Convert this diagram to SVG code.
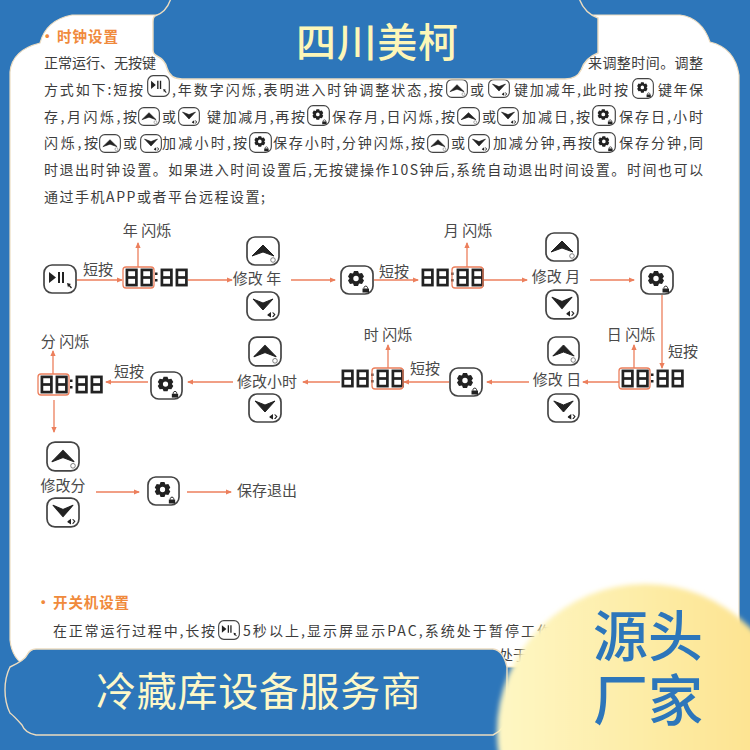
<svg xmlns="http://www.w3.org/2000/svg" width="750" height="750" viewBox="0 0 750 750">
<style>
text{font-family:"Noto Sans CJK SC","Noto Sans",sans-serif}
.p{font-size:14px;fill:#3c3c3c}
.h{font-size:14.5px;font-weight:700;fill:#f08a3c}
.l{font-size:15px;fill:#4a4a4a;text-anchor:middle}
.c{fill:none;stroke:#ec7f5c;stroke-width:1.3;marker-end:url(#a)}
.hl{fill:none;stroke:#ec7f5c;stroke-width:1.3}
.ban{fill:#2d76ba;stroke:#ecdcc0;stroke-width:1.4}
.kb{fill:#fff;stroke:#444;stroke-width:1.7}
.ic{fill:#222}
.ch{fill:#222;stroke:#222;stroke-width:1;stroke-linejoin:round}
.d{fill:none;stroke:#222;stroke-width:2.7}
.big{font-size:55px;font-weight:500;fill:#2d76ba}
</style>
<defs>
<marker id="a" markerWidth="6" markerHeight="6" refX="5" refY="3" orient="auto" markerUnits="userSpaceOnUse"><path d="M0 0.4L6 3L0 5.6Z" fill="#ec7f5c"/></marker>
<linearGradient id="y" x1="0" x2="1" y1="0" y2="0"><stop offset="0" stop-color="#fef7c4"/><stop offset="0.55" stop-color="#fdeba3"/><stop offset="1" stop-color="#fde08a"/></linearGradient>
<filter id="b" x="-5%" y="-5%" width="110%" height="110%"><feGaussianBlur stdDeviation="2.5"/></filter>
<symbol id="k-up" viewBox="0 0 34 30" preserveAspectRatio="none"><rect class="kb" x="1" y="1" width="32" height="28" rx="8"/><path class="ch" d="M17 9L28 20L17 16L6 20Z"/><circle cx="27" cy="24" r="2.3" fill="#fff" stroke="#666" stroke-width="0.8"/></symbol>
<symbol id="k-down" viewBox="0 0 34 30" preserveAspectRatio="none"><rect class="kb" x="1" y="1" width="32" height="28" rx="8"/><path class="ch" d="M7 8L17 12L27 8L17 19Z"/><path class="ic" d="M21.500 23.500L25 21V26.500L21.500 24.500ZM26 21.500L28 23.500L26 26H27.500L29.500 23.500L27.500 21.500Z"/></symbol>
<symbol id="k-set" viewBox="0 0 34 30" preserveAspectRatio="none"><rect class="kb" x="1" y="1" width="32" height="28" rx="8"/><path class="ic" fill-rule="evenodd" d="M14 6H18L19 8.500L22 8L24 11.500L22.500 13.500L24 15.500L22 19L19 18.500L18 21H14L13 18.500L10 19L8 15.500L9.500 13.500L8 11.500L10 8L13 8.500ZM16 10.800A2.700 2.700 0 1 0 16 16.200A2.700 2.700 0 1 0 16 10.800Z"/><path class="ic" d="M22.500 23.500H29V27.500H22.500Z"/><path d="M24 23.500V22.500A1.800 1.800 0 0 1 27.500 22.500V23.500" fill="none" stroke="#222" stroke-width="1"/></symbol>
<symbol id="k-play" viewBox="0 0 34 30" preserveAspectRatio="none"><rect class="kb" x="1" y="1" width="32" height="28" rx="8"/><path class="ic" d="M6 8L13 13.500L6 19ZM15 8H17V19H15ZM19 8H21V19H19Z"/><path class="ic" d="M24 19L28 20L26.800 21L29 23.500L28 24.500L25.800 22L25 23.500Z"/></symbol>
<g id="dg"><rect class="d" x="1.400" y="1.400" width="9.500" height="15.200"/><path class="d" d="M1.400 9H10.900"/></g>
<g id="disp"><use href="#dg" x="2.500" y="1.500"/><use href="#dg" x="17.500" y="1.500"/><rect class="ic" x="32" y="5.500" width="2.500" height="2.500"/><rect class="ic" x="32" y="12" width="2.500" height="2.500"/><use href="#dg" x="37.500" y="1.500"/><use href="#dg" x="52.500" y="1.500"/></g>
</defs>
<rect width="750" height="750" fill="#2d76ba"/>
<path id="panel" d="M10 72Q12 50 40 43Q46 20 72 15L680 15Q702 18 710 42Q735 48 739 75V640Q738 660 720 667H28Q12 660 10 640Z" fill="#fff" stroke="#ecdcc0" stroke-width="1.2"/>

<g id="text-clock">
<text class="h" x="40" y="42">·</text>
<text class="h" x="57" y="42" textLength="61">时钟设置</text>
<text class="p" x="44" y="68">正常运行、无按键</text>
<text class="p" x="588" y="68" textLength="115">来调整时间。调整</text>
<text class="p" x="44" y="95" textLength="99">方式如下:短按</text>
<use href="#k-play" x="147" y="75" width="23" height="22"/>
<text class="p" x="172" y="95" textLength="271">,年数字闪烁,表明进入时钟调整状态,按</text>
<use href="#k-up" x="446" y="79" width="22" height="19"/>
<text class="p" x="470" y="95">或</text>
<use href="#k-down" x="488" y="79" width="22" height="19"/>
<text class="p" x="514" y="95" textLength="114">键加减年,此时按</text>
<use href="#k-set" x="632" y="78" width="22" height="21"/>
<text class="p" x="658" y="95" textLength="45">键年保</text>
<text class="p" x="44" y="122" textLength="93">存,月闪烁,按</text>
<use href="#k-up" x="138" y="107" width="22" height="19"/>
<text class="p" x="162" y="122">或</text>
<use href="#k-down" x="178" y="107" width="22" height="19"/>
<text class="p" x="207" y="122" textLength="98">键加减月,再按</text>
<use href="#k-set" x="307" y="105" width="23" height="21"/>
<text class="p" x="332" y="122" textLength="123">保存月,日闪烁,按</text>
<use href="#k-up" x="457" y="107" width="23" height="19"/>
<text class="p" x="482" y="122">或</text>
<use href="#k-down" x="497" y="107" width="22" height="19"/>
<text class="p" x="522" y="122" textLength="68">加减日,按</text>
<use href="#k-set" x="592" y="105" width="24" height="21"/>
<text class="p" x="619" y="122" textLength="84">保存日,小时</text>
<text class="p" x="44" y="148" textLength="54">闪烁,按</text>
<use href="#k-up" x="99" y="134" width="22" height="19"/>
<text class="p" x="123" y="148">或</text>
<use href="#k-down" x="140" y="134" width="22" height="19"/>
<text class="p" x="162" y="148" textLength="85">加减小时,按</text>
<use href="#k-set" x="249" y="132" width="23" height="21"/>
<text class="p" x="273" y="148" textLength="152">保存小时,分钟闪烁,按</text>
<use href="#k-up" x="427" y="134" width="22" height="19"/>
<text class="p" x="451" y="148">或</text>
<use href="#k-down" x="468" y="134" width="22" height="19"/>
<text class="p" x="493" y="148" textLength="99">加减分钟,再按</text>
<use href="#k-set" x="593" y="132" width="23" height="21"/>
<text class="p" x="619" y="148" textLength="84">保存分钟,同</text>
<text class="p" x="44" y="175" textLength="659">时退出时钟设置。如果进入时间设置后,无按键操作10S钟后,系统自动退出时间设置。时间也可以</text>
<text class="p" x="44" y="202" textLength="221">通过手机APP或者平台远程设置;</text>
</g>

<g id="connectors">
<path class="c" d="M77 280H122"/><path class="c" d="M138 267V243"/><path class="c" d="M188 280H232"/><path class="c" d="M291 280H335"/>
<path class="c" d="M374 280H418"/><path class="c" d="M467 267V243"/><path class="c" d="M483 280H527"/><path class="c" d="M590 280H634"/>
<path class="c" d="M662 295V368"/><path class="c" d="M634 368V345"/><path class="c" d="M619 382H583"/><path class="c" d="M529 382H487"/>
<path class="c" d="M449 382H404"/><path class="c" d="M388 368V345"/><path class="c" d="M340 382H303"/><path class="c" d="M233 382H188"/>
<path class="c" d="M148 382H106"/><path class="c" d="M53 374V351"/><path class="c" d="M54 400V432"/><path class="c" d="M96 492H139"/><path class="c" d="M187 492H231"/>
</g>

<g id="n-play"><use href="#k-play" x="43" y="264" width="34" height="30"/><text class="l" x="98" y="275">短按</text></g>
<g id="n-disp-year"><use href="#disp" x="123" y="267"/><rect class="hl" x="123" y="267" width="31" height="21" rx="3"/><text class="l" x="147" y="236">年 闪烁</text></g>
<g id="n-mod-year"><use href="#k-up" x="246" y="236" width="34" height="30"/><text class="l" x="257" y="284">修改 年</text><use href="#k-down" x="246" y="291" width="34" height="30"/></g>
<g id="n-set-1"><use href="#k-set" x="340" y="265" width="34" height="30"/><text class="l" x="394" y="277">短按</text></g>
<g id="n-disp-month"><use href="#disp" x="419" y="267"/><rect class="hl" x="452" y="267" width="31" height="21" rx="3"/><text class="l" x="468" y="236">月 闪烁</text></g>
<g id="n-mod-month"><use href="#k-up" x="545" y="232" width="34" height="30"/><text class="l" x="556" y="282">修改 月</text><use href="#k-down" x="545" y="289" width="34" height="31"/></g>
<g id="n-set-2"><use href="#k-set" x="640" y="265" width="34" height="30"/><text class="l" x="683" y="357">短按</text></g>
<g id="n-disp-day"><use href="#disp" x="619" y="368"/><rect class="hl" x="619" y="368" width="31" height="21" rx="3"/><text class="l" x="631" y="340">日 闪烁</text></g>
<g id="n-mod-day"><use href="#k-up" x="547" y="336" width="33" height="30"/><text class="l" x="557" y="385">修改 日</text><use href="#k-down" x="547" y="393" width="33" height="30"/></g>
<g id="n-set-3"><use href="#k-set" x="449" y="367" width="34" height="30"/><text class="l" x="425" y="374">短按</text></g>
<g id="n-disp-hour"><use href="#disp" x="339" y="368"/><rect class="hl" x="372" y="368" width="31" height="21" rx="3"/><text class="l" x="388" y="340">时 闪烁</text></g>
<g id="n-mod-hour"><use href="#k-up" x="248" y="336" width="34" height="31"/><text class="l" x="267" y="387">修改小时</text><use href="#k-down" x="248" y="393" width="34" height="30"/></g>
<g id="n-set-4"><use href="#k-set" x="150" y="371" width="33" height="29"/><text class="l" x="129" y="377">短按</text></g>
<g id="n-disp-min"><use href="#disp" x="38" y="374"/><rect class="hl" x="38" y="374" width="31" height="21" rx="3"/><text class="l" x="65" y="347">分 闪烁</text></g>
<g id="n-mod-min"><use href="#k-up" x="46" y="441" width="34" height="31"/><text class="l" x="63" y="491">修改分</text><use href="#k-down" x="46" y="497" width="34" height="31"/></g>
<g id="n-set-5"><use href="#k-set" x="147" y="476" width="33" height="30"/></g>
<g id="n-exit"><text class="l" x="267" y="496">保存退出</text></g>

<g id="text-power">
<text class="h" x="36" y="608">·</text>
<text class="h" x="53" y="608" textLength="76">开关机设置</text>
<text class="p" x="53" y="636" textLength="162">在正常运行过程中,长按</text>
<use href="#k-play" x="218" y="620" width="22" height="20"/>
<text class="p" x="243" y="636" textLength="308">5秒以上,显示屏显示PAC,系统处于暂停工作</text>
<text class="p" x="499" y="660">处于</text>
</g>

<g id="banner-top"><path class="ban" d="M171-2Q167 12 155 16Q153 17 153 22V50Q153 54 157 56Q165 60 167 68Q170 79 182 79H565Q577 79 581 70Q585 58 598 53V18Q584 13 579-2Z"/>
<text x="296" y="57" font-size="40" font-weight="500" fill="#fdf6b8" textLength="162">四川美柯</text></g>
<g id="banner-bottom"><path class="ban" d="M36 649H493Q503 650 507 667V715Q505 730 493 735H36Q25 733 22 725Q14 716 10 713Q5 703 5 690Q5 677 10 667Q25 660 27 655Q30 649 36 649Z"/>
<text x="96" y="706" font-size="40" fill="#fdf8c8" textLength="325">冷藏库设备服务商</text></g>
<g id="badge"><circle cx="645" cy="732" r="148" fill="url(#y)" filter="url(#b)"/>
<text class="big" x="593" y="656" textLength="110">源头</text>
<text class="big" x="593" y="720" textLength="110">厂家</text></g>
</svg>
